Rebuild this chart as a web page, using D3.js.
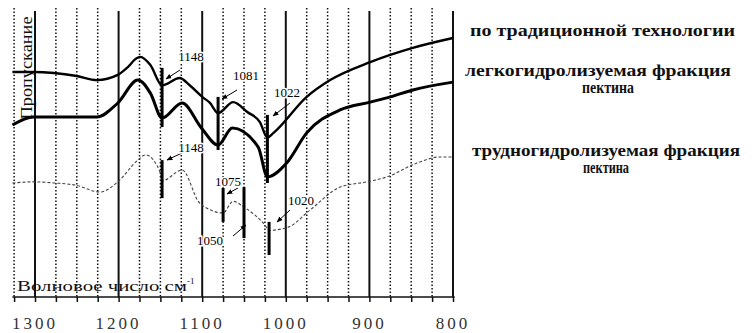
<!DOCTYPE html>
<html>
<head>
<meta charset="utf-8">
<script src="https://cdn.jsdelivr.net/npm/d3@7/dist/d3.min.js"></script>
</head>
<body style="margin:0">
<svg id="chart" width="754" height="333" font-family="Liberation Serif"></svg>
<script>
// IR spectra of pectin samples, transmittance (arbitrary units) vs wavenumber

// wavenumber axis
const tickValues = [1300, 1200, 1100, 1000, 900, 800];
const tickLabels = ["1300", "1200", "1100", "1000", "900", "800"];
const minorGrid = [1325, 1275, 1250, 1225, 1175, 1150, 1125, 1075, 1050, 1025, 975, 950, 925, 875, 850, 825];

// pectin obtained by the traditional technology
const wnTrad = [1327, 1302, 1250, 1226, 1201, 1190, 1178, 1174, 1162, 1148, 1127, 1115, 1100, 1091, 1081, 1063, 1046, 1031, 1022, 1015, 975, 947, 899, 848, 800];
const tTrad  = [77.6, 77.6, 76.2, 74.8, 76.6, 79.0, 82.4, 82.8, 80.0, 73.0, 75.5, 73.0, 69.0, 67.0, 63.4, 67.2, 63.8, 60.3, 55.0, 56.5, 69.0, 74.8, 81.0, 85.9, 89.3];

// easily hydrolysable pectin fraction
const wnEasy = [1327, 1302, 1226, 1201, 1177, 1162, 1148, 1124, 1101, 1081, 1064, 1033, 1022, 999, 975, 935, 899, 875, 848, 800];
const tEasy  = [59.3, 62.1, 62.1, 66.9, 74.8, 70.3, 61.7, 66.9, 58.3, 52.4, 58.3, 51.7, 41.4, 46.2, 56.6, 64.5, 67.2, 69.0, 71.4, 74.1];

// hardly hydrolysable pectin fraction
const wnHard = [1327, 1302, 1276, 1252, 1222, 1201, 1177, 1168, 1150, 1148, 1124, 1103, 1075, 1063, 1050, 1025, 1020, 997, 971, 935, 903, 879, 843, 816, 800];
const tHard  = [39.3, 39.7, 39.3, 38.6, 36.2, 39.7, 47.2, 49.0, 42.8, 40.0, 43.8, 32.4, 29.0, 33.0, 31.0, 24.8, 23.0, 24.1, 30.0, 37.9, 39.7, 41.4, 46.2, 48.3, 48.3];

// band assignments
const bandLabels = ["1148", "1081", "1022", "1148", "1075", "1050", "1020"];
const bandWn     = [1148, 1081, 1022, 1148, 1075, 1050, 1020];

// legend captions
const seriesNames = [
  ["по традиционной технологии"],
  ["легкогидролизуемая фракция", "пектина"],
  ["трудногидролизуемая фракция", "пектина"]
];

const SERIF = "Liberation Serif";

const svg = d3.select("#chart");
const x = d3.scaleLinear().domain([1300, 800]).range([35, 453]);
const y = d3.scaleLinear().domain([0, 100]).range([297, 7]);

// vertical grid
const gTop = 8, gBottom = 297;
svg.append("g").selectAll("line").data(minorGrid).join("line")
  .attr("x1", d => x(d)).attr("x2", d => x(d))
  .attr("y1", gTop).attr("y2", gBottom)
  .attr("stroke", "#111").attr("stroke-width", 1.5).attr("stroke-dasharray", "1.5,2");
svg.append("g").selectAll("line").data(tickValues).join("line")
  .attr("x1", d => x(d)).attr("x2", d => x(d))
  .attr("y1", gTop + 3).attr("y2", gBottom)
  .attr("stroke", "#111").attr("stroke-width", 2);

// bottom axis (tick marks only; labels are set separately)
const axis = d3.axisBottom(x)
  .tickValues(tickValues.concat(minorGrid))
  .tickSize(5).tickFormat("");
const ax = svg.append("g").attr("transform", `translate(0,${gBottom})`).call(axis);
ax.attr("font-family", SERIF);
ax.select(".domain").remove();
ax.selectAll(".tick line").attr("stroke", "#111").attr("stroke-width", 1.5);
svg.append("line").attr("x1", x(1327)).attr("x2", x(798))
  .attr("y1", gBottom).attr("y2", gBottom).attr("stroke", "#111").attr("stroke-width", 1.5);

svg.append("g").selectAll("text").data(tickValues).join("text")
  .attr("x", d => x(d)).attr("y", 329)
  .attr("text-anchor", "middle")
  .attr("font-family", SERIF)
  .attr("font-size", 17).attr("letter-spacing", 3).attr("fill", "#333")
  .text((d, i) => tickLabels[i]);

// axis titles
const xt = svg.append("text").attr("x", 17).attr("y", 291)
  .attr("font-family", SERIF).attr("font-size", 15).attr("fill", "#111");
xt.append("tspan").attr("textLength", 170).attr("lengthAdjust", "spacingAndGlyphs").text("Волновое число см");
xt.append("tspan").attr("dy", -7).attr("font-size", 9).text("-1");

svg.append("text")
  .attr("transform", "translate(32,68) rotate(-90)")
  .attr("text-anchor", "middle")
  .attr("font-family", SERIF).attr("font-size", 16).attr("fill", "#111")
  .attr("textLength", 103).attr("lengthAdjust", "spacingAndGlyphs")
  .text("Пропускание");

// spectra
const line = d3.line().x(d => x(d[0])).y(d => y(d[1])).curve(d3.curveMonotoneX);
svg.append("path").datum(d3.zip(wnTrad, tTrad)).attr("d", line)
  .attr("fill", "none").attr("stroke", "#000").attr("stroke-width", 2.4).attr("stroke-linejoin", "round");
svg.append("path").datum(d3.zip(wnEasy, tEasy)).attr("d", line)
  .attr("fill", "none").attr("stroke", "#000").attr("stroke-width", 3).attr("stroke-linejoin", "round");
svg.append("path").datum(d3.zip(wnHard, tHard)).attr("d", line)
  .attr("fill", "none").attr("stroke", "#444").attr("stroke-width", 1.1).attr("stroke-dasharray", "3,2");

// band markers: bar span (transmittance units), label centre and arrow offsets
const markerLayout = [
  { top: 79, bottom: 58.6, lx: 191, ly: 61, a: [[180, 70], [166, 79]] },
  { top: 69, bottom: 50.7, lx: 246, ly: 80, a: [[237, 90], [222, 99]] },
  { top: 62.8, bottom: 39.3, lx: 287, ly: 97, a: [[290, 103], [273, 116]] },
  { top: 47.2, bottom: 34.1, lx: 191, ly: 152, a: [[182, 153], [167, 160]] },
  { top: 37.6, bottom: 25.9, lx: 228, ly: 186, a: [[238, 188], [227, 194]] },
  { top: 37.9, bottom: 20.3, lx: 210, ly: 245, a: [[233, 236], [246, 225]] },
  { top: 25.9, bottom: 14.5, lx: 301, ly: 205, a: [[290, 210], [277, 222]] }
];

const defs = svg.append("defs");
defs.append("marker").attr("id", "head").attr("viewBox", "0 0 10 10")
  .attr("refX", 9).attr("refY", 5).attr("markerWidth", 6).attr("markerHeight", 6)
  .attr("orient", "auto")
  .append("path").attr("d", "M0,1 L10,5 L0,9 Z").attr("fill", "#000");

const mk = svg.append("g");
bandWn.forEach((wn, i) => {
  const m = markerLayout[i];
  mk.append("line")
    .attr("x1", x(wn)).attr("x2", x(wn))
    .attr("y1", y(m.top)).attr("y2", y(m.bottom))
    .attr("stroke", "#000").attr("stroke-width", 3);
  mk.append("line")
    .attr("x1", m.a[0][0]).attr("y1", m.a[0][1])
    .attr("x2", m.a[1][0]).attr("y2", m.a[1][1])
    .attr("stroke", "#000").attr("stroke-width", 1)
    .attr("marker-end", "url(#head)");
  mk.append("text")
    .attr("x", m.lx).attr("y", m.ly)
    .attr("text-anchor", "middle")
    .attr("font-family", SERIF).attr("font-size", 13)
    .attr("fill", "#000")
    .attr("stroke", "#fff").attr("stroke-width", 3).attr("paint-order", "stroke")
    .text(bandLabels[i]);
});

// legend captions on the right
const legendLayout = [
  [{ x: 470, y: 36, w: 265 }],
  [{ x: 465, y: 76, w: 266 }, { x: 608, y: 93, w: 52, c: true }],
  [{ x: 472, y: 156, w: 268 }, { x: 606, y: 173, w: 46, c: true }]
];
seriesNames.forEach((lines, i) => {
  lines.forEach((t, j) => {
    const p = legendLayout[i][j];
    svg.append("text")
      .attr("x", p.c ? p.x - p.w / 2 : p.x).attr("y", p.y)
      .attr("font-family", SERIF).attr("font-size", 16).attr("font-weight", "bold")
      .attr("fill", "#111")
      .attr("textLength", p.w).attr("lengthAdjust", "spacingAndGlyphs")
      .text(t);
  });
});
</script>
</body>
</html>
